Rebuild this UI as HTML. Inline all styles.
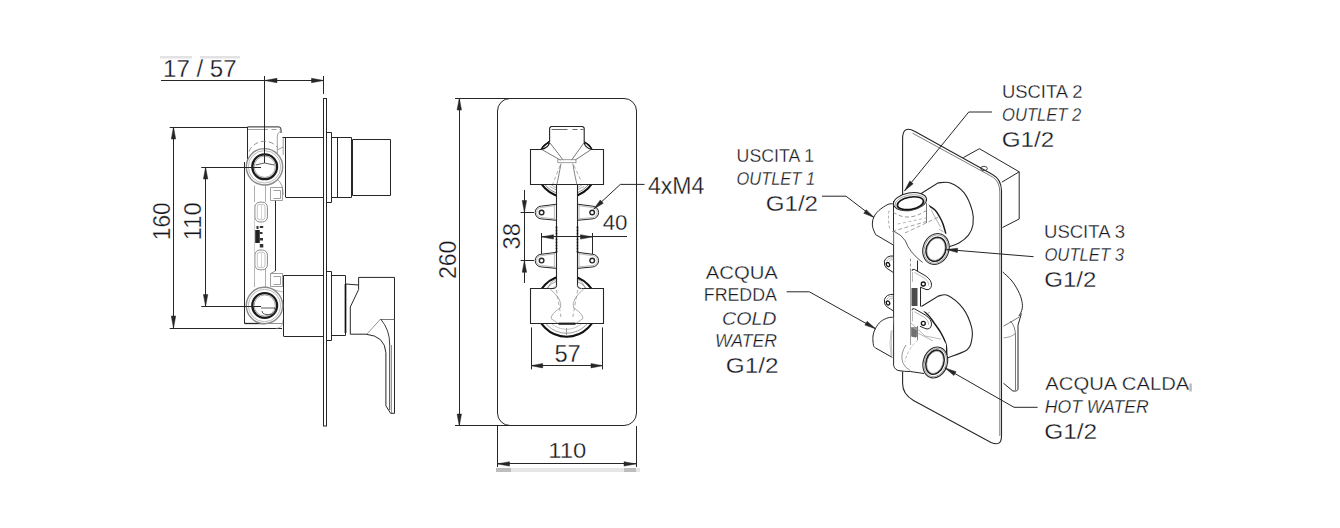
<!DOCTYPE html>
<html><head><meta charset="utf-8"><style>
html,body{margin:0;padding:0;background:#fff;width:1340px;height:528px;overflow:hidden}
svg{display:block}
text{font-family:"Liberation Sans",sans-serif}
</style></head><body>
<svg width="1340" height="528" viewBox="0 0 1340 528">
<rect width="1340" height="528" fill="#fff"/>
<rect x="160" y="56" width="32" height="2.5" fill="#e2e2e2"/>
<rect x="200" y="56" width="40" height="2.5" fill="#e2e2e2"/>
<text x="163" y="77" font-size="23.5" fill="#15151c" stroke="#fff" stroke-width="0.3" style="" textLength="73.63299239231617" lengthAdjust="spacingAndGlyphs" text-anchor="start">17 / 57</text>
<line x1="161" y1="80.5" x2="324" y2="80.5" stroke="#262626" stroke-width="1.0" />
<polygon points="264.70,80.50 277.00,78.30 277.00,82.70" fill="#262626" stroke="#262626" stroke-width="0.5"/>
<polygon points="323.80,80.50 311.50,82.70 311.50,78.30" fill="#262626" stroke="#262626" stroke-width="0.5"/>
<line x1="264.5" y1="76" x2="264.5" y2="166.5" stroke="#262626" stroke-width="1.0" />
<line x1="323.5" y1="76" x2="323.5" y2="94" stroke="#262626" stroke-width="1.0" />
<line x1="169.7" y1="127.5" x2="248" y2="127.5" stroke="#262626" stroke-width="1.0" />
<line x1="169.7" y1="328.5" x2="282" y2="328.5" stroke="#262626" stroke-width="1.0" />
<line x1="173.5" y1="127" x2="173.5" y2="328.2" stroke="#262626" stroke-width="1.0" />
<polygon points="173.50,127.00 175.70,139.00 171.30,139.00" fill="#262626" stroke="#262626" stroke-width="0.5"/>
<polygon points="173.50,328.20 171.30,316.00 175.70,316.00" fill="#262626" stroke="#262626" stroke-width="0.5"/>
<text transform="translate(169.5,240.20000000000007) rotate(-90)" font-size="23.5" fill="#15151c" stroke="#fff" stroke-width="0.3" style="" textLength="37.96767151073121" lengthAdjust="spacingAndGlyphs" text-anchor="start">160</text>
<line x1="201.5" y1="167.5" x2="262" y2="167.5" stroke="#262626" stroke-width="1.0" />
<line x1="201.5" y1="306.5" x2="262" y2="306.5" stroke="#262626" stroke-width="1.0" />
<line x1="205.5" y1="167.3" x2="205.5" y2="306.2" stroke="#262626" stroke-width="1.0" />
<polygon points="205.60,167.30 207.80,179.00 203.40,179.00" fill="#262626" stroke="#262626" stroke-width="0.5"/>
<polygon points="205.60,306.20 203.40,294.50 207.80,294.50" fill="#262626" stroke="#262626" stroke-width="0.5"/>
<text transform="translate(201.20000000000007,240.20000000000007) rotate(-90)" font-size="23.5" fill="#15151c" stroke="#fff" stroke-width="0.3" style="" textLength="37.99869085020076" lengthAdjust="spacingAndGlyphs" text-anchor="start">110</text>
<rect x="323.5" y="98.5" width="3" height="327.5" fill="none" stroke="#262626" stroke-width="1"/>
<path d="M247.5,126.9 H279 Q281,126.9 281,129.5 V133" stroke="#262626" stroke-width="1.0" fill="none" />
<line x1="247.5" y1="129.5" x2="268" y2="129.5" stroke="#888" stroke-width="0.8" />
<path d="M271.5,129.5 H276.5 M279.5,129.5 H281.5" stroke="#888" stroke-width="0.8" fill="none" />
<line x1="247.5" y1="126.9" x2="247.5" y2="160" stroke="#262626" stroke-width="1.0" />
<line x1="244.5" y1="162" x2="244.5" y2="323.6" stroke="#262626" stroke-width="1.0" />
<path d="M244.5,323.5 H264.5" stroke="#262626" stroke-width="1.3" fill="none" />
<path d="M264.5,323.5 H282.5" stroke="#777" stroke-width="0.8" fill="none" />
<line x1="275.5" y1="200.3" x2="275.5" y2="271" stroke="#262626" stroke-width="1.0" />
<line x1="254.5" y1="185.5" x2="254.5" y2="202" stroke="#999" stroke-width="0.8" />
<line x1="265.5" y1="185.5" x2="265.5" y2="202" stroke="#999" stroke-width="0.8" />
<line x1="254.5" y1="268" x2="254.5" y2="287" stroke="#999" stroke-width="0.8" />
<line x1="265.5" y1="268" x2="265.5" y2="287" stroke="#999" stroke-width="0.8" />
<path d="M277.3,155.7 V137 Q277.3,132 281,131.5 M283.2,137 V155 M277.3,150 L283,147" stroke="#888" stroke-width="0.8" fill="none" />
<path d="M270.5,187.5 H282.5 V200.5 H270.5 Z M273.5,190.5 H280.5 V198.5 H273.5" stroke="#888" stroke-width="0.8" fill="none" />
<path d="M277.3,179.6 Q283,183 283.2,195" stroke="#888" stroke-width="0.8" fill="none" />
<path d="M270.5,273.5 H282.5 V286.5 H270.5 Z M273.5,276.5 H280.5 V284.5 H273.5" stroke="#888" stroke-width="0.8" fill="none" />
<path d="M275.3,271 L270.8,273.5" stroke="#777" stroke-width="0.8" fill="none" />
<line x1="274.5" y1="290" x2="283" y2="292" stroke="#999" stroke-width="0.7" />
<path d="M283,320 Q283,328 276,328.5" stroke="#999" stroke-width="0.7" fill="none" />
<path d="M282.5,137.5 H323.5" stroke="#262626" stroke-width="1.0" fill="none" />
<path d="M285.5,197.5 H323.5" stroke="#262626" stroke-width="1.0" fill="none" />
<line x1="285.5" y1="137.3" x2="285.5" y2="197" stroke="#262626" stroke-width="1.0" />
<path d="M326.5,132.5 H331.5 V202.5 H326.5" stroke="#262626" stroke-width="1.0" fill="none" />
<path d="M331.5,137.5 H351.5 V197.5 H331.5" stroke="#262626" stroke-width="1.0" fill="none" />
<line x1="337.5" y1="137" x2="337.5" y2="197.3" stroke="#262626" stroke-width="1.0" />
<path d="M352.5,139.5 H390.5 V195.5 H352.5 Z" stroke="#262626" stroke-width="1.0" fill="none" />
<path d="M283.5,275.5 H323.5" stroke="#262626" stroke-width="1.0" fill="none" />
<path d="M283.5,336.5 H323.5" stroke="#262626" stroke-width="1.0" fill="none" />
<line x1="283.5" y1="275.6" x2="283.5" y2="336" stroke="#262626" stroke-width="1.0" />
<path d="M326.5,271.5 H331.5 V340.5 H326.5" stroke="#262626" stroke-width="1.0" fill="none" />
<path d="M331.5,275.5 H345.5 V335.5 H331.5" stroke="#262626" stroke-width="1.0" fill="none" />
<line x1="345.5" y1="284" x2="345.5" y2="333" stroke="#111" stroke-width="1.7" />
<path d="M345.8,284 L358.6,285" stroke="#262626" stroke-width="1.0" fill="none" />
<path d="M358.6,277.4 H394.5 V413.3 L390.6,413.3 L385.9,405.8 V352.7 Q385,336 366,334.2 H350.3 V307 L358.6,289.5 Z" stroke="#262626" stroke-width="1.0" fill="none" />
<path d="M380.5,319.5 H394.5" stroke="#555" stroke-width="0.8" fill="none" />
<path d="M380.6,319 Q390,330 389.7,345 V410" stroke="#262626" stroke-width="0.9" fill="none" />
<path d="M380.6,319 L367,334" stroke="#666" stroke-width="0.7" fill="none" />
<line x1="391.5" y1="345" x2="391.5" y2="413" stroke="#666" stroke-width="0.7" />
<circle cx="264.5" cy="166.8" r="18.2" fill="#fff" stroke="#8a8a8a" stroke-width="1.4"/>
<circle cx="264.5" cy="166.8" r="16.2" fill="none" stroke="#aaa" stroke-width="0.8"/>
<circle cx="264.7" cy="166.8" r="12.4" fill="none" stroke="#1c1c1c" stroke-width="2.3"/>
<circle cx="264.7" cy="166.8" r="10.6" fill="none" stroke="#666" stroke-width="0.6"/>
<circle cx="264.5" cy="305.5" r="18.2" fill="#fff" stroke="#8a8a8a" stroke-width="1.4"/>
<circle cx="264.5" cy="305.5" r="16.2" fill="none" stroke="#aaa" stroke-width="0.8"/>
<circle cx="264.7" cy="305.5" r="12.4" fill="none" stroke="#1c1c1c" stroke-width="2.3"/>
<circle cx="264.7" cy="305.5" r="10.6" fill="none" stroke="#666" stroke-width="0.6"/>
<line x1="264.5" y1="125" x2="264.5" y2="163" stroke="#262626" stroke-width="1.0" />
<path d="M264.4,163 L255.6,165 M264.4,163 L274.4,165" stroke="#333" stroke-width="0.8" fill="none" />
<line x1="201.5" y1="167.5" x2="261" y2="167.5" stroke="#262626" stroke-width="1.0" />
<line x1="201.5" y1="306.5" x2="261" y2="306.5" stroke="#262626" stroke-width="1.0" />
<path d="M261,308 H275 Q277,312 273,314 Q262,316 262,311" stroke="#333" stroke-width="0.8" fill="none" />
<path d="M249,151.5 A16.8,16.8 0 0 1 277.5,147.5" stroke="#777" stroke-width="0.8" fill="none" stroke-dasharray="5,3"/>
<rect x="254.9" y="202.2" width="12.5" height="19.8" rx="5" fill="none" stroke="#888" stroke-width="1"/>
<rect x="257.3" y="204.39999999999998" width="7.7" height="15.4" rx="2.5" fill="none" stroke="#aaa" stroke-width="0.7"/>
<line x1="261.5" y1="205.2" x2="261.5" y2="219.2" stroke="#bbb" stroke-width="0.6" />
<rect x="254.9" y="250" width="12.5" height="19.8" rx="5" fill="none" stroke="#888" stroke-width="1"/>
<rect x="257.3" y="252.2" width="7.7" height="15.4" rx="2.5" fill="none" stroke="#aaa" stroke-width="0.7"/>
<line x1="261.5" y1="253" x2="261.5" y2="267" stroke="#bbb" stroke-width="0.6" />
<path d="M255.2,230 H259.8 V243 H255.2 Z" fill="#222"/>
<path d="M259.8,226 H263.2 V228 H259.8 Z M259.8,232 H262.5 V234 H259.8 Z M259.8,238 H263 V240.5 H259.8 Z M259.8,244 H263.3 V247.5 H259.8 Z M256.5,226 H258.5 V229 H256.5 Z" fill="#333"/>
<line x1="254.5" y1="205" x2="254.5" y2="282" stroke="#bbb" stroke-width="0.7" />
<rect x="497.5" y="98.5" width="139" height="327" rx="12.5" fill="none" stroke="#262626" stroke-width="1"/>
<line x1="455" y1="98.5" x2="510" y2="98.5" stroke="#262626" stroke-width="1.0" />
<line x1="455" y1="425.5" x2="510" y2="425.5" stroke="#262626" stroke-width="1.0" />
<line x1="459.5" y1="98" x2="459.5" y2="425.8" stroke="#262626" stroke-width="1.0" />
<polygon points="459.30,98.00 461.50,110.00 457.10,110.00" fill="#262626" stroke="#262626" stroke-width="0.5"/>
<polygon points="459.30,425.80 457.10,414.00 461.50,414.00" fill="#262626" stroke="#262626" stroke-width="0.5"/>
<text transform="translate(455.5,279.09999999999985) rotate(-90)" font-size="23.5" fill="#15151c" stroke="#fff" stroke-width="0.3" style="" textLength="38.552213687976696" lengthAdjust="spacingAndGlyphs" text-anchor="start">260</text>
<rect x="496" y="468" width="144" height="4" fill="#e6e6e6"/>
<rect x="496" y="468" width="15" height="4" fill="#bdbdbd"/>
<rect x="624" y="468" width="12" height="4" fill="#bdbdbd"/>
<line x1="497.5" y1="426" x2="497.5" y2="467" stroke="#262626" stroke-width="1.0" />
<line x1="636.5" y1="426" x2="636.5" y2="467" stroke="#262626" stroke-width="1.0" />
<line x1="497.3" y1="463.5" x2="636" y2="463.5" stroke="#262626" stroke-width="1.0" />
<polygon points="497.30,463.90 509.50,461.70 509.50,466.10" fill="#262626" stroke="#262626" stroke-width="0.5"/>
<polygon points="636.00,463.90 624.00,466.10 624.00,461.70" fill="#262626" stroke="#262626" stroke-width="0.5"/>
<text x="548.1999999999997" y="457.6" font-size="22.5" fill="#15151c" stroke="#fff" stroke-width="0.3" style="" textLength="37.998690850201164" lengthAdjust="spacingAndGlyphs" text-anchor="start">110</text>
<circle cx="566.6" cy="166.7" r="30.5" fill="none" stroke="#111" stroke-width="2.1"/>
<circle cx="566.6" cy="306.3" r="30.5" fill="none" stroke="#111" stroke-width="2.1"/>
<circle cx="566.6" cy="166.7" r="28.2" fill="none" stroke="#555" stroke-width="0.7"/>
<circle cx="566.6" cy="306.3" r="27" fill="none" stroke="#888" stroke-width="0.8"/>
<circle cx="566.6" cy="306.3" r="23" fill="none" stroke="#aaa" stroke-width="0.7"/>
<path d="M530.6,149.3 H541.5 L549.6,142 V126.5 H584.2 V142 L591.5,149.3 H603.3 V184.5 H530.6 Z" fill="#fff"/>
<rect x="530.6" y="288.5" width="73" height="34.8" fill="#fff"/>
<rect x="556.6" y="184" width="20.8" height="105" fill="#fff"/>
<path d="M549.6,186.4 L556.5,190 M551,184.5 L556.5,188" stroke="#888" stroke-width="0.7" fill="none" />
<path d="M584.2,186.4 L577,190 M582.5,184.5 L577,188" stroke="#888" stroke-width="0.7" fill="none" />
<path d="M548,288.5 Q550,281 556.5,279.5 M585,288.5 Q583,281 577.5,279.5" stroke="#888" stroke-width="0.7" fill="none" />
<path d="M549.6,142 V128 L551,126.5 H582.8 L584.2,128 V142" stroke="#262626" stroke-width="1.1" fill="none" />
<path d="M551.5,129.5 H567.5 M572.5,129.5 H577.5 M580.5,129.5 H583.5" stroke="#444" stroke-width="0.8" fill="none" />
<path d="M541.5,149.5 H530.5 V184.5 H603.5 V149.5 H591.5" stroke="#262626" stroke-width="1.1" fill="none" />
<path d="M549.6,142.5 Q543,144.5 541.5,149.3 Q548,148 549.6,142.5" stroke="#111" stroke-width="1.2" fill="none" />
<path d="M584.2,142.5 Q590.5,144.5 591.5,149.3 Q585,148 584.2,142.5" stroke="#111" stroke-width="1.2" fill="none" />
<path d="M541.5,149.3 L560.5,160.2 M549.6,142.5 L563.3,160.2 M584.2,142.5 L571.5,160.2 M591.5,149.3 L575,160.2" stroke="#555" stroke-width="0.8" fill="none" />
<rect x="557.8" y="159.7" width="18.2" height="3" fill="none" stroke="#888" stroke-width="0.8"/>
<path d="M561,163.6 Q559.5,172 556.9,184.5 M572.8,163.6 Q574,172 576.9,184.5" stroke="#666" stroke-width="0.8" fill="none" />
<path d="M560,165.5 L552.8,184 M574,165.5 L580.5,179.5" stroke="#888" stroke-width="0.7" fill="none" stroke-dasharray="3.5,2.5"/>
<line x1="556.5" y1="184.5" x2="556.5" y2="285.7" stroke="#262626" stroke-width="1.1" />
<line x1="577.5" y1="184.5" x2="577.5" y2="285.7" stroke="#262626" stroke-width="1.1" />
<path d="M556.7,285.7 Q556.5,288.5 553,288.5 M577.4,285.7 Q577.6,288.5 581,288.5" stroke="#262626" stroke-width="1" fill="none" />
<path d="M553.5,288.5 H530.5 V323.5 H603.5 V288.5 H581.5" stroke="#262626" stroke-width="1.1" fill="none" />
<path d="M549.6,288.5 Q563,300 560.5,307.6 Q551,314 551,318.5 L557.8,323.3" stroke="#888" stroke-width="0.7" fill="none" />
<path d="M584,288.5 Q571,300 573.5,307.6 Q583,314 583,318.5 L576,323.3" stroke="#888" stroke-width="0.7" fill="none" />
<path d="M556.5,290 L561,317 M577.6,290 L572.8,317" stroke="#888" stroke-width="0.7" fill="none" stroke-dasharray="3.5,2.5"/>
<rect x="558.5" y="322.6" width="17" height="2.2" fill="#222"/>
<line x1="566.5" y1="328" x2="566.5" y2="335.5" stroke="#888" stroke-width="0.8" />
<path d="M556.5,226.5 V252.5" stroke="#111" stroke-width="1.7" fill="none" stroke-dasharray="2,1"/>
<path d="M577.5,226.5 V252.5" stroke="#111" stroke-width="1.7" fill="none" stroke-dasharray="2,1"/>
<path d="M556.7,204.2 L541.6,206.1 A6.4,6.4 0 0 0 541.6,218.9 L556.7,220.3" stroke="#262626" stroke-width="1" fill="none" />
<path d="M554.4,205.7 L541.6,207.5 A5,5 0 0 0 541.6,217.5 L554.4,218.8 M554.4,204.7 V220.0" stroke="#888" stroke-width="0.6" fill="none" />
<circle cx="541.6" cy="212.5" r="2.3" fill="none" stroke="#262626" stroke-width="1.4"/>
<path d="M577.4,204.2 L592.2,206.1 A6.4,6.4 0 0 1 592.2,218.9 L577.4,220.3" stroke="#262626" stroke-width="1" fill="none" />
<path d="M579,205.7 L592.2,207.5 A5,5 0 0 1 592.2,217.5 L579,218.8 M579,204.7 V220.0" stroke="#888" stroke-width="0.6" fill="none" />
<circle cx="592.2" cy="212.5" r="2.3" fill="none" stroke="#262626" stroke-width="1.4"/>
<path d="M556.7,252.3 L541.6,254.20000000000002 A6.4,6.4 0 0 0 541.6,267.0 L556.7,268.40000000000003" stroke="#262626" stroke-width="1" fill="none" />
<path d="M554.4,253.8 L541.6,255.60000000000002 A5,5 0 0 0 541.6,265.6 L554.4,266.90000000000003 M554.4,252.8 V268.1" stroke="#888" stroke-width="0.6" fill="none" />
<circle cx="541.6" cy="260.6" r="2.3" fill="none" stroke="#262626" stroke-width="1.4"/>
<path d="M577.4,252.3 L592.2,254.20000000000002 A6.4,6.4 0 0 1 592.2,267.0 L577.4,268.40000000000003" stroke="#262626" stroke-width="1" fill="none" />
<path d="M579,253.8 L592.2,255.60000000000002 A5,5 0 0 1 592.2,265.6 L579,266.90000000000003 M579,252.8 V268.1" stroke="#888" stroke-width="0.6" fill="none" />
<circle cx="592.2" cy="260.6" r="2.3" fill="none" stroke="#262626" stroke-width="1.4"/>
<line x1="524.5" y1="190" x2="524.5" y2="283" stroke="#262626" stroke-width="1.0" />
<polygon points="524.40,212.30 522.20,200.50 526.60,200.50" fill="#262626" stroke="#262626" stroke-width="0.5"/>
<polygon points="524.40,260.50 526.60,272.30 522.20,272.30" fill="#262626" stroke="#262626" stroke-width="0.5"/>
<line x1="520.6" y1="212.5" x2="534" y2="212.5" stroke="#262626" stroke-width="1.0" />
<line x1="520.6" y1="260.5" x2="534" y2="260.5" stroke="#262626" stroke-width="1.0" />
<text transform="translate(519.8000000000003,249.40000000000015) rotate(-90)" font-size="23" fill="#15151c" stroke="#fff" stroke-width="0.3" style="" textLength="26.135044180585947" lengthAdjust="spacingAndGlyphs" text-anchor="start">38</text>
<line x1="541.5" y1="233" x2="541.5" y2="254" stroke="#262626" stroke-width="1.0" />
<line x1="592.5" y1="233" x2="592.5" y2="254" stroke="#262626" stroke-width="1.0" />
<line x1="541.7" y1="236.5" x2="627" y2="236.5" stroke="#262626" stroke-width="1.0" />
<polygon points="541.70,236.90 553.50,234.70 553.50,239.10" fill="#262626" stroke="#262626" stroke-width="0.5"/>
<polygon points="592.30,236.90 580.50,239.10 580.50,234.70" fill="#262626" stroke="#262626" stroke-width="0.5"/>
<text x="602.6999999999997" y="230.30000000000013" font-size="22.5" fill="#15151c" stroke="#fff" stroke-width="0.3" style="" textLength="24.843151080874645" lengthAdjust="spacingAndGlyphs" text-anchor="start">40</text>
<path d="M644.5,184.4 H620.3 L593.8,209" stroke="#262626" stroke-width="1.0" fill="none" />
<polygon points="593.80,209.00 600.31,199.98 603.29,203.22" fill="#262626" stroke="#262626" stroke-width="0.5"/>
<text x="647.8999999999994" y="193.80000000000007" font-size="23" fill="#15151c" stroke="#fff" stroke-width="0.3" style="" textLength="56.43387599666162" lengthAdjust="spacingAndGlyphs" text-anchor="start">4xM4</text>
<line x1="531.5" y1="327.4" x2="531.5" y2="369.4" stroke="#262626" stroke-width="1.0" />
<line x1="602.5" y1="327.4" x2="602.5" y2="369.4" stroke="#262626" stroke-width="1.0" />
<line x1="531" y1="365.5" x2="602.6" y2="365.5" stroke="#262626" stroke-width="1.0" />
<polygon points="531.00,365.70 542.70,363.50 542.70,367.90" fill="#262626" stroke="#262626" stroke-width="0.5"/>
<polygon points="602.60,365.70 591.00,367.90 591.00,363.50" fill="#262626" stroke="#262626" stroke-width="0.5"/>
<text x="554.3999999999994" y="361.6999999999997" font-size="23" fill="#15151c" stroke="#fff" stroke-width="0.3" style="" textLength="26.35087722843427" lengthAdjust="spacingAndGlyphs" text-anchor="start">57</text>
<text x="736.6000000000006" y="162.19999999999993" font-size="19" fill="#15151c" stroke="#fff" stroke-width="0.3" style="" textLength="77.4311261188327" lengthAdjust="spacingAndGlyphs" text-anchor="start">USCITA 1</text>
<text x="736.5000000000002" y="184.7" font-size="19" fill="#15151c" stroke="#fff" stroke-width="0.3" style="font-style:italic;" textLength="78.55974998897402" lengthAdjust="spacingAndGlyphs" text-anchor="start">OUTLET 1</text>
<text x="765.8000000000004" y="211.2999999999999" font-size="22" fill="#15151c" stroke="#fff" stroke-width="0.3" style="" textLength="52.21125075975819" lengthAdjust="spacingAndGlyphs" text-anchor="start">G1/2</text>
<text x="1001.8999999999994" y="98.20000000000006" font-size="19" fill="#15151c" stroke="#fff" stroke-width="0.3" style="" textLength="80.6606212265818" lengthAdjust="spacingAndGlyphs" text-anchor="start">USCITA 2</text>
<text x="1002" y="121.30000000000003" font-size="19" fill="#15151c" stroke="#fff" stroke-width="0.3" style="font-style:italic;" textLength="79.32339507149563" lengthAdjust="spacingAndGlyphs" text-anchor="start">OUTLET 2</text>
<text x="1001.6999999999996" y="146.60000000000008" font-size="22" fill="#15151c" stroke="#fff" stroke-width="0.3" style="" textLength="52.54551930637241" lengthAdjust="spacingAndGlyphs" text-anchor="start">G1/2</text>
<text x="1044" y="237.8" font-size="19" fill="#15151c" stroke="#fff" stroke-width="0.3" style="" textLength="80.96710830714999" lengthAdjust="spacingAndGlyphs" text-anchor="start">USCITA 3</text>
<text x="1044.3999999999994" y="260.9000000000001" font-size="19" fill="#15151c" stroke="#fff" stroke-width="0.3" style="font-style:italic;" textLength="79.63960070472629" lengthAdjust="spacingAndGlyphs" text-anchor="start">OUTLET 3</text>
<text x="1044.1999999999998" y="287.2" font-size="22" fill="#15151c" stroke="#fff" stroke-width="0.3" style="" textLength="52.19101848965747" lengthAdjust="spacingAndGlyphs" text-anchor="start">G1/2</text>
<text x="705.6999999999997" y="278.7999999999999" font-size="19" fill="#15151c" stroke="#fff" stroke-width="0.3" style="" textLength="72.2170382833401" lengthAdjust="spacingAndGlyphs" text-anchor="start">ACQUA</text>
<text x="703.8000000000003" y="300.9000000000001" font-size="19" fill="#15151c" stroke="#fff" stroke-width="0.3" style="" textLength="73.13613665746325" lengthAdjust="spacingAndGlyphs" text-anchor="start">FREDDA</text>
<text x="722" y="324.5999999999999" font-size="19" fill="#15151c" stroke="#fff" stroke-width="0.3" style="font-style:italic;" textLength="54.5" lengthAdjust="spacingAndGlyphs" text-anchor="start">COLD</text>
<text x="715" y="346.59999999999997" font-size="19" fill="#15151c" stroke="#fff" stroke-width="0.3" style="font-style:italic;" textLength="61.93803084473627" lengthAdjust="spacingAndGlyphs" text-anchor="start">WATER</text>
<text x="725.8000000000003" y="372.6" font-size="22" fill="#15151c" stroke="#fff" stroke-width="0.3" style="" textLength="52.793972101103556" lengthAdjust="spacingAndGlyphs" text-anchor="start">G1/2</text>
<text x="1045.2999999999988" y="390.1999999999998" font-size="19" fill="#15151c" stroke="#fff" stroke-width="0.3" style="" textLength="144.03196604797117" lengthAdjust="spacingAndGlyphs" text-anchor="start">ACQUA CALDA</text>
<text x="1044.7999999999988" y="413.19999999999993" font-size="19" fill="#15151c" stroke="#fff" stroke-width="0.3" style="font-style:italic;" textLength="103.91303562574446" lengthAdjust="spacingAndGlyphs" text-anchor="start">HOT WATER</text>
<text x="1044.1999999999998" y="438.7000000000001" font-size="22" fill="#15151c" stroke="#fff" stroke-width="0.3" style="" textLength="53.02854273253838" lengthAdjust="spacingAndGlyphs" text-anchor="start">G1/2</text>
<rect x="1189.4" y="383.5" width="2.4" height="8" fill="#bbb"/>
<path d="M902.6,383.6 V139 Q902.6,124.5 915,131.5 L992.5,174.5 Q1001.5,179.5 1001.5,191 V436 Q1001.5,447 991,442.5 L913.5,400.5 Q902.6,394.5 902.6,383.6" stroke="#262626" stroke-width="1.1" fill="none" />
<path d="M912.5,133.2 L992.3,176.8 Q999.8,181.5 999.8,192 V436" stroke="#444" stroke-width="0.7" fill="none" />
<path d="M963.3,157.6 L979.4,148.7 L1019.2,171.8 V219 L1002.5,227.5" stroke="#262626" stroke-width="1" fill="none" />
<path d="M1001.8,182.2 L1019.2,171.8" stroke="#262626" stroke-width="1" fill="none" />
<ellipse cx="984" cy="168.5" rx="3.3" ry="2.2" fill="none" stroke="#333" stroke-width="0.9"/>
<path d="M1002.7,272 C1004.25,273.50 1009.22,277.43 1012,281 C1014.78,284.57 1017.68,289.63 1019.4,293.4 C1021.12,297.17 1021.92,300.75 1022.3,303.6 C1022.68,306.45 1022.27,308.42 1021.7,310.5 C1021.13,312.58 1019.37,315.17 1018.9,316.1" stroke="#262626" stroke-width="1" fill="none" />
<path d="M1021.4,313.4 L1018,325.3 V389.2 Q1017.5,391.5 1012.9,391 L1003.5,383.3" stroke="#262626" stroke-width="1" fill="none" />
<path d="M1003.5,326.2 L1019.7,316.8" stroke="#555" stroke-width="0.8" fill="none" />
<path d="M1010.3,321 Q1015.5,326 1015.5,336 V390" stroke="#555" stroke-width="0.8" fill="none" />
<path d="M1003.5,338 Q1011,337.5 1015.4,333.8" stroke="#777" stroke-width="0.7" fill="none" />
<path d="M938.2,182.9 C940.22,182.90 946.00,181.27 950.3,182.9 C954.60,184.53 960.33,188.03 964,192.7 C967.67,197.37 970.80,205.60 972.3,210.9 C973.80,216.20 973.63,220.45 973,224.5 C972.37,228.55 970.77,232.17 968.5,235.2 C966.23,238.23 962.93,240.68 959.4,242.7 C955.87,244.72 949.32,246.53 947.3,247.3 L927,240 L920,194.2 Z" fill="#fff"/>
<path d="M920,194.2 L938.2,182.9  C940.22,182.90 946.00,181.27 950.3,182.9 C954.60,184.53 960.33,188.03 964,192.7 C967.67,197.37 970.80,205.60 972.3,210.9 C973.80,216.20 973.63,220.45 973,224.5 C972.37,228.55 970.77,232.17 968.5,235.2 C966.23,238.23 962.93,240.68 959.4,242.7 C955.87,244.72 949.32,246.53 947.3,247.3" stroke="#262626" stroke-width="1.1" fill="none" />
<path d="M927.6,204.8 C928.83,205.67 932.98,207.97 935,210 C937.02,212.03 938.37,214.67 939.7,217 C941.03,219.33 941.98,221.23 943,224 C944.02,226.77 945.33,232.00 945.8,233.6" stroke="#1a1a1a" stroke-width="1.5" fill="none" />
<path d="M928.8,207 L928.3,223 L934,226.5 L943.4,231.7 M930.5,209 L940.5,227 M929,214 L935,224" stroke="#999" stroke-width="0.8" fill="none" />
<path d="M938.4,296.1 C939.98,296.00 943.80,293.45 947.9,295.5 C952.00,297.55 959.05,303.10 963,308.4 C966.95,313.70 970.17,321.93 971.6,327.3 C973.03,332.67 972.40,336.82 971.6,340.6 C970.80,344.38 970.75,347.15 966.8,350 C962.85,352.85 951.05,356.42 947.9,357.7 L921,350 L921.4,306.5 Z" fill="#fff"/>
<path d="M921.4,306.5 L938.4,296.1  C939.98,296.00 943.80,293.45 947.9,295.5 C952.00,297.55 959.05,303.10 963,308.4 C966.95,313.70 970.17,321.93 971.6,327.3 C973.03,332.67 972.40,336.82 971.6,340.6 C970.80,344.38 970.75,347.15 966.8,350 C962.85,352.85 951.05,356.42 947.9,357.7" stroke="#262626" stroke-width="1.1" fill="none" />
<path d="M913.8,308.4 C915.83,309.17 922.53,310.47 926,313 C929.47,315.53 932.10,320.27 934.6,323.6 C937.10,326.93 939.10,329.53 941,333 C942.90,336.47 945.05,340.73 946,344.4 C946.95,348.07 946.58,353.23 946.7,355" stroke="#1a1a1a" stroke-width="1.5" fill="none" />
<path d="M916,328 L940,336 M913,322 L930,312" stroke="#888" stroke-width="0.7" fill="none" />
<path d="M893.6,200 L926.7,200 L946,246 L940,262 L920,262 L920,306 L946,344 L946,372 L925,379 L902.5,371.5 L893.6,366 Z" fill="#fff"/>
<path d="M893.6,231.5 V365.5 Q895,370.5 900,370.8 Q904,371.5 910.3,371.5" stroke="#262626" stroke-width="1" fill="none" />
<path d="M910.5,258.5 V270.5" stroke="#777" stroke-width="0.8" fill="none" stroke-dasharray="3,2"/>
<line x1="910.5" y1="270" x2="910.5" y2="345" stroke="#888" stroke-width="0.8" />
<line x1="917.5" y1="260.5" x2="917.5" y2="272" stroke="#262626" stroke-width="1" />
<line x1="920.5" y1="287" x2="920.5" y2="306.5" stroke="#262626" stroke-width="1" />
<line x1="917.5" y1="326" x2="917.5" y2="340" stroke="#666" stroke-width="0.8" />
<path d="M893.6,231 Q902,235 905.5,241 Q909,252 922.6,262.5" stroke="#444" stroke-width="0.9" fill="none" />
<path d="M897.6,224 L926,218" stroke="#999" stroke-width="0.7" fill="none" stroke-dasharray="3,2.5"/>
<rect x="911.5" y="288" width="6" height="18" fill="#1f1f1f" opacity="0.8"/>
<rect x="911.5" y="327" width="6" height="10" fill="#444" opacity="0.55"/>
<path d="M893.3,203.9 C892.42,203.98 890.42,203.28 888,204.4 C885.58,205.52 881.17,208.35 878.75,210.6 C876.33,212.85 874.54,215.29 873.5,217.9 C872.46,220.51 872.15,223.47 872.5,226.25 C872.85,229.03 875.08,233.21 875.6,234.6 L893.3,245 Z" fill="#fff"/>
<path d="M893.3,203.9 C892.42,203.98 890.42,203.28 888,204.4 C885.58,205.52 881.17,208.35 878.75,210.6 C876.33,212.85 874.54,215.29 873.5,217.9 C872.46,220.51 872.15,223.47 872.5,226.25 C872.85,229.03 875.08,233.21 875.6,234.6 L893.3,245" stroke="#262626" stroke-width="1" fill="none" />
<path d="M889,210.6 Q887.5,220 890,229.4" stroke="#888" stroke-width="0.7" fill="none" stroke-dasharray="3,2"/>
<path d="M893.3,317.3 C892.43,317.38 890.18,317.10 888.1,317.8 C886.02,318.50 882.88,319.77 880.8,321.5 C878.72,323.23 876.90,325.78 875.6,328.2 C874.30,330.62 873.35,333.13 873,336 C872.65,338.87 873.07,343.40 873.5,345.4 C873.93,347.40 875.25,347.57 875.6,348 L892.3,357.4 Z" fill="#fff"/>
<path d="M893.3,317.3 C892.43,317.38 890.18,317.10 888.1,317.8 C886.02,318.50 882.88,319.77 880.8,321.5 C878.72,323.23 876.90,325.78 875.6,328.2 C874.30,330.62 873.35,333.13 873,336 C872.65,338.87 873.07,343.40 873.5,345.4 C873.93,347.40 875.25,347.57 875.6,348 L892.3,357.4" stroke="#262626" stroke-width="1" fill="none" />
<path d="M891,331 Q889,343 891,356 M892,330 Q890.5,343 892,356" stroke="#999" stroke-width="0.6" fill="none" />
<line x1="893.5" y1="201" x2="893.5" y2="231.5" stroke="#262626" stroke-width="1.0" />
<line x1="926.5" y1="203" x2="926.5" y2="223" stroke="#666" stroke-width="0.9" />
<path d="M893,212 Q908,223 927,210" stroke="#777" stroke-width="0.8" fill="none" stroke-dasharray="4,2.5"/>
<path d="M892,231.5 L928,221 M905,233 L940,216.4" stroke="#888" stroke-width="0.8" fill="none" stroke-dasharray="4,2.5"/>
<ellipse cx="910" cy="201.6" rx="16.7" ry="8.7" fill="#fff" stroke="#222" stroke-width="1.1" transform="rotate(-10 910 201.6)"/>
<ellipse cx="910.2" cy="202.5" rx="15.2" ry="7.5" fill="none" stroke="#888" stroke-width="0.7" transform="rotate(-10 910.2 202.5)"/>
<ellipse cx="910.4" cy="203.2" rx="13.2" ry="6.1" fill="none" stroke="#111" stroke-width="1.6" transform="rotate(-10 910.4 203.2)"/>
<path d="M893.5,256.0 Q886.5,255.40000000000003 884.4,261.1 Q883.8,266.1 886.5,268.1 L893.5,272.6" stroke="#262626" stroke-width="1" fill="none" />
<path d="M893.5,257.8 Q888.5,257.3 886.8,261.1 M893.5,259.6 Q890,259.40000000000003 889,261.6" stroke="#888" stroke-width="0.6" fill="none" />
<ellipse cx="888" cy="264.6" rx="1.6" ry="2.1" fill="none" stroke="#111" stroke-width="1.3" transform="rotate(-25 888 264.6)"/>
<path d="M893.5,294.4 Q886.5,293.8 884.4,299.5 Q883.8,304.5 886.5,306.5 L893.5,311" stroke="#262626" stroke-width="1" fill="none" />
<path d="M893.5,296.2 Q888.5,295.7 886.8,299.5 M893.5,298 Q890,297.8 889,300" stroke="#888" stroke-width="0.6" fill="none" />
<ellipse cx="888" cy="303" rx="1.6" ry="2.1" fill="none" stroke="#111" stroke-width="1.3" transform="rotate(-25 888 303)"/>
<path d="M912,271 Q912,268.5 914.5,269.5 L925,275.5 Q932,280 931.5,285.5 Q930.5,290.5 926,289.5 L920,287 Z" fill="#fff"/>
<path d="M912,271 Q912,268.5 914.5,269.5 L925,275.5 Q932,280 931.5,285.5 Q930.5,290.5 926,289.5 L920,287" stroke="#262626" stroke-width="1" fill="none" />
<path d="M914.5,272.5 L924.5,278 Q929,281.5 928.8,285.5 M912.5,272 V282" stroke="#888" stroke-width="0.6" fill="none" />
<circle cx="923.3" cy="284" r="2" fill="none" stroke="#111" stroke-width="1.3"/>
<path d="M912,310.3 Q912,307.8 914.5,308.8 L925,314.8 Q932,319.3 931.5,324.8 Q930.5,329.8 926,328.8 L920,326.3 Z" fill="#fff"/>
<path d="M912,310.3 Q912,307.8 914.5,308.8 L925,314.8 Q932,319.3 931.5,324.8 Q930.5,329.8 926,328.8 L920,326.3" stroke="#262626" stroke-width="1" fill="none" />
<path d="M914.5,311.8 L924.5,317.3 Q929,320.8 928.8,324.8 M912.5,311.3 V321.3" stroke="#888" stroke-width="0.6" fill="none" />
<circle cx="923.3" cy="323.3" r="2" fill="none" stroke="#111" stroke-width="1.3"/>
<ellipse cx="936" cy="249" rx="12.9" ry="15.8" fill="#fff" stroke="#2a2a2a" stroke-width="1.1" transform="rotate(20 936 249)"/>
<ellipse cx="936" cy="249.1" rx="11.7" ry="14.6" fill="none" stroke="#888" stroke-width="0.7" transform="rotate(20 936 249.1)"/>
<ellipse cx="936" cy="249.3" rx="9.6" ry="12.2" fill="none" stroke="#1a1a1a" stroke-width="1.6" transform="rotate(20 936 249.3)"/>
<ellipse cx="936" cy="249.3" rx="8.6" ry="11.4" fill="none" stroke="#999" stroke-width="0.6" transform="rotate(20 936 249.3)"/>
<path d="M910.3,371.5 L924,373.5" stroke="#262626" stroke-width="1" fill="none" />
<path d="M906,345 Q900,354 902.7,362.4 Q905,368 910.3,370.5" stroke="#777" stroke-width="0.8" fill="none" />
<path d="M918,339.7 Q907,350 905,362" stroke="#999" stroke-width="0.7" fill="none" stroke-dasharray="3,2"/>
<path d="M911,323 L925,336 L941,339 M912,330 L933,341" stroke="#999" stroke-width="0.7" fill="none" />
<path d="M911,327 L917,331 L916,338 L911,336 Z" fill="#555" opacity="0.6"/>
<ellipse cx="935.3" cy="362.5" rx="12" ry="15.8" fill="#fff" stroke="#2a2a2a" stroke-width="1.1" transform="rotate(18 935.3 362.5)"/>
<ellipse cx="935.3" cy="362.5" rx="10.8" ry="14.6" fill="none" stroke="#888" stroke-width="0.7" transform="rotate(18 935.3 362.5)"/>
<ellipse cx="935" cy="362.2" rx="8.8" ry="12.3" fill="none" stroke="#1a1a1a" stroke-width="1.6" transform="rotate(18 935 362.2)"/>
<ellipse cx="935" cy="362.2" rx="7.8" ry="11.4" fill="none" stroke="#999" stroke-width="0.6" transform="rotate(18 935 362.2)"/>
<path d="M822,196.2 H846 L874,217.6" stroke="#262626" stroke-width="1.0" fill="none" />
<polygon points="874.00,217.40 863.79,213.34 866.21,209.66" fill="#262626" stroke="#262626" stroke-width="0.5"/>
<path d="M992,112 H968.75 L904.6,190.8" stroke="#262626" stroke-width="1.0" fill="none" />
<polygon points="904.60,190.80 909.79,180.91 913.21,183.69" fill="#262626" stroke="#262626" stroke-width="0.5"/>
<path d="M1033.6,256.7 L946.6,249.5" stroke="#262626" stroke-width="1.0" fill="none" />
<polygon points="946.60,249.50 957.68,248.21 957.32,252.59" fill="#262626" stroke="#262626" stroke-width="0.5"/>
<path d="M786.7,291.8 H809.4 L875.6,328.75" stroke="#262626" stroke-width="1.0" fill="none" />
<polygon points="875.60,328.75 864.90,325.10 867.10,321.30" fill="#262626" stroke="#262626" stroke-width="0.5"/>
<path d="M1037.6,407.3 H1014 L945,367.9" stroke="#262626" stroke-width="1.0" fill="none" />
<polygon points="945.00,367.90 956.09,371.69 953.91,375.51" fill="#262626" stroke="#262626" stroke-width="0.5"/>
</svg></body></html>
